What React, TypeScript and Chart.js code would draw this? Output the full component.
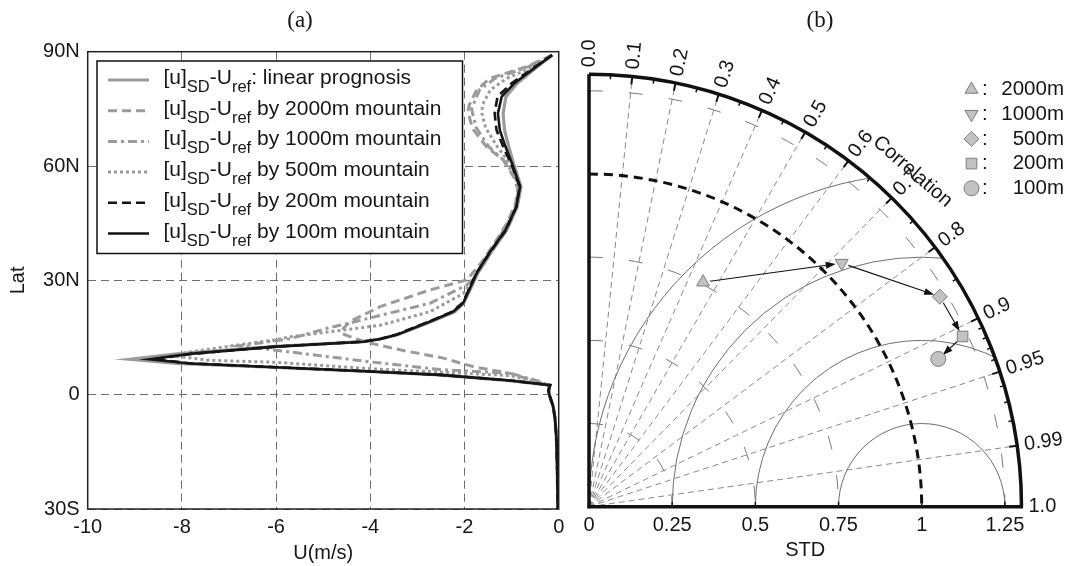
import React, { useEffect, useRef } from "react";
import { Chart, registerables } from "chart.js";
import { drawPoint } from "chart.js/helpers";

Chart.register(...registerables);

const SANS = "'Liberation Sans', Arial, Helvetica, sans-serif";
const SERIF = "'Liberation Serif', 'Times New Roman', serif";
const INK = "#161616";
const GREY = "#9b9b9b";

// ---------------- Panel (a) data ----------------
const uTickValues = [-10, -8, -6, -4, -2, 0];
const uTickLabels = ["-10", "-8", "-6", "-4", "-2", "0"];
const latTickValues = [-30, 0, 30, 60, 90];
const latTickLabels = ["30S", "0", "30N", "60N", "90N"];

const latBase = [89.1, 86.1, 81.7, 78.2, 73.8, 69.4, 65.1, 60.3, 54.6, 49.3, 43.2, 37.1, 31.9, 27.0, 24.0, 21.8, 19.2, 15.7, 14.6, 13.9, 12.6, 10.7, 9.3, 8.2, 7.2, 6.1, 5.2, 3.7, 2.5, 1.0, 0, -3, -6, -11, -20, -30];
const uLinear = [-0.14, -0.45, -0.88, -1.12, -1.18, -1.15, -1.06, -0.95, -0.8, -0.88, -1.1, -1.45, -1.72, -1.9, -2.02, -2.2, -2.7, -3.42, -3.78, -4.15, -6.1, -8.1, -9.1, -8.1, -6.1, -4.05, -2.55, -1.05, -0.2, -0.22, -0.2, -0.12, -0.08, -0.05, -0.03, -0.02];
const u100m = [-0.14, -0.47, -0.94, -1.21, -1.29, -1.25, -1.13, -0.98, -0.82, -0.9, -1.13, -1.48, -1.74, -1.92, -2.03, -2.24, -2.73, -3.44, -3.79, -4.15, -6.0, -7.83, -8.68, -7.82, -6.0, -4.0, -2.52, -1.03, -0.18, -0.22, -0.2, -0.12, -0.08, -0.05, -0.03, -0.02];
const u200m = [-0.14, -0.5, -1.0, -1.3, -1.36, -1.32, -1.18, -1.0, -0.83, -0.9, -1.12, -1.47, -1.75, -1.93, -2.05, -2.26, -2.75, -3.46, -3.8, -4.17, -6.02, -7.8, -8.6, -7.8, -6.0, -4.0, -2.5, -1.02, -0.18, -0.22, -0.2, -0.12, -0.08, -0.05, -0.03, -0.02];

const lat500m = [89.1, 86, 83, 80, 76, 73.8, 70, 65, 61, 57, 54, 50, 45, 40, 35, 30, 26.5, 21.8, 18.2, 16.5, 15.2, 14.3, 13.0, 11.2, 10.2, 9.0, 8.5, 6.8, 5.0, 3.0, 2.3, 0, -3, -6, -11, -20, -30];
const u500m = [-0.14, -0.55, -1.1, -1.45, -1.62, -1.63, -1.55, -1.3, -1.05, -0.88, -0.82, -0.88, -1.08, -1.32, -1.55, -1.82, -2.03, -2.73, -3.79, -4.86, -5.7, -6.06, -6.84, -7.83, -8.2, -7.4, -6.0, -4.0, -1.03, -0.4, -0.2, -0.2, -0.12, -0.08, -0.05, -0.03, -0.02];

const lat1000m = [89.1, 86, 83, 80, 75, 70, 65, 61, 57, 54, 50, 45, 40, 35, 30, 28.8, 24, 20.8, 18.6, 17.6, 14.7, 12.8, 11.2, 8.6, 6.6, 5.6, 3.5, 2.3, 0, -3, -6, -11, -20, -30];
const u1000m = [-0.14, -0.65, -1.35, -1.68, -1.85, -1.75, -1.48, -1.12, -0.92, -0.85, -0.9, -1.08, -1.32, -1.58, -1.85, -1.95, -2.73, -3.79, -4.5, -4.86, -5.7, -6.8, -5.7, -4.0, -2.52, -1.03, -0.4, -0.2, -0.2, -0.12, -0.08, -0.05, -0.03, -0.02];

const lat2000m = [89.1, 86, 83, 80, 76, 74.7, 72, 69.5, 65, 61.6, 57, 54, 50, 45, 40, 35, 30.1, 27.5, 23.1, 19.2, 17.4, 16.0, 13.8, 11.6, 9.6, 7.3, 5.6, 3.8, 2.4, 0, -3, -6, -11, -20, -30];
const u2000m = [-0.14, -0.7, -1.46, -1.74, -1.9, -1.92, -1.88, -1.81, -1.53, -1.18, -0.95, -0.87, -0.92, -1.1, -1.35, -1.62, -1.95, -2.73, -3.79, -4.43, -4.57, -4.6, -4.1, -3.3, -2.45, -1.8, -1.03, -0.58, -0.2, -0.2, -0.12, -0.08, -0.05, -0.03, -0.02];

const legendSuffixes = [": linear prognosis", " by 2000m mountain", " by 1000m mountain", " by 500m mountain", " by 200m mountain", " by 100m mountain"];

// ---------------- Panel (b) data ----------------
const runLabels = ["2000m", "1000m", "500m", "200m", "100m"];
const runStd = [0.757, 1.055, 1.229, 1.234, 1.14];
const runCorr = [0.453, 0.72, 0.858, 0.91, 0.921];
const stdTickValues = [0, 0.25, 0.5, 0.75, 1, 1.25];
const stdTickLabels = ["0", "0.25", "0.5", "0.75", "1", "1.25"];
const corrTickValues = [0, 0.1, 0.2, 0.3, 0.4, 0.5, 0.6, 0.7, 0.8, 0.9, 0.95, 0.99, 1.0];
const corrTickLabels = ["0.0", "0.1", "0.2", "0.3", "0.4", "0.5", "0.6", "0.7", "0.8", "0.9", "0.95", "0.99", "1.0"];
const corrMinorTicks = [0.05, 0.15, 0.25, 0.35, 0.45, 0.55, 0.65, 0.75, 0.85, 0.91, 0.92, 0.93, 0.94, 0.96, 0.97, 0.98];
const stdArcs = [0.25, 0.5, 0.75, 1.25];
const rmsArcs = [0.25, 0.5, 0.75, 1.0];
const refStd = 1;
const stdMax = 1.3;

const markerStyles = ["triangle", "triangle", "rectRot", "rect", "circle"];
const markerRotations = [0, 180, 0, 0, 0];

// ---------------- helpers ----------------
function drawLegendLabel(ctx: CanvasRenderingContext2D, x: number, yc: number, suffix: string) {
  const main = `21px ${SANS}`;
  const sub = `16.5px ${SANS}`;
  const parts: [string, string, number][] = [
    ["[u]", main, 4],
    ["SD", sub, 12],
    ["-U", main, 4],
    ["ref", sub, 12],
    [suffix, main, 4],
  ];
  ctx.textAlign = "left";
  ctx.textBaseline = "alphabetic";
  let cx = x;
  for (const [t, f, dy] of parts) {
    ctx.font = f;
    ctx.fillText(t, cx, yc + dy);
    cx += ctx.measureText(t).width;
  }
}

const titlePlugin = (text: string, x: number) => ({
  id: "panelTitle",
  afterDraw(chart: any) {
    const ctx = chart.ctx;
    ctx.save();
    ctx.font = `23px ${SERIF}`;
    ctx.fillStyle = INK;
    ctx.textAlign = "center";
    ctx.textBaseline = "middle";
    ctx.fillText(text, x, 21);
    ctx.restore();
  },
});

const frameLegendPlugin = {
  id: "frameLegend",
  afterDatasetsDraw(chart: any) {
    const { ctx, chartArea } = chart;
    ctx.save();
    ctx.strokeStyle = "#222";
    ctx.lineWidth = 1.5;
    ctx.setLineDash([]);
    ctx.strokeRect(chartArea.left, chartArea.top, chartArea.right - chartArea.left, chartArea.bottom - chartArea.top);

    // legend box
    const bx = 97, by = 61, bw = 365.5, bh = 192.5;
    ctx.fillStyle = "#fff";
    ctx.fillRect(bx, by, bw, bh);
    ctx.lineWidth = 1.5;
    ctx.strokeStyle = "#111";
    ctx.strokeRect(bx, by, bw, bh);
    const ds = chart.data.datasets;
    for (let i = 0; i < ds.length; i++) {
      const yc = 80 + i * 30.7;
      ctx.beginPath();
      ctx.strokeStyle = ds[i].borderColor;
      ctx.lineWidth = ds[i].borderWidth;
      ctx.setLineDash(ds[i].borderDash || []);
      ctx.moveTo(108, yc);
      ctx.lineTo(149, yc);
      ctx.stroke();
      ctx.setLineDash([]);
      ctx.fillStyle = INK;
      drawLegendLabel(ctx, 163.5, yc, legendSuffixes[i]);
    }
    ctx.restore();
  },
};

function line(ctx: CanvasRenderingContext2D, x1: number, y1: number, x2: number, y2: number) {
  ctx.beginPath();
  ctx.moveTo(x1, y1);
  ctx.lineTo(x2, y2);
  ctx.stroke();
}

const taylorPlugin = {
  id: "taylor",
  beforeDatasetsDraw(chart: any) {
    const { ctx, scales } = chart;
    const xs = scales.x, ys = scales.y;
    const cx = xs.getPixelForValue(0);
    const cy = ys.getPixelForValue(0);
    const u = xs.getPixelForValue(1) - cx;
    const P = (r: number, th: number): [number, number] => [cx + r * u * Math.cos(th), cy - r * u * Math.sin(th)];
    const R = stdMax * u;

    ctx.save();
    ctx.beginPath();
    ctx.moveTo(cx, cy);
    ctx.arc(cx, cy, R, -Math.PI / 2, 0);
    ctx.closePath();
    ctx.clip();

    // radial correlation lines
    ctx.strokeStyle = "#8a8a8a";
    ctx.lineWidth = 1;
    ctx.setLineDash([6, 4]);
    for (const c of corrTickValues.slice(1, -1)) {
      const th = Math.acos(c);
      const [ex, ey] = P(stdMax, th);
      line(ctx, cx, cy, ex, ey);
    }
    // std arcs (sparse dashes)
    ctx.strokeStyle = "#7a7a7a";
    ctx.setLineDash([14, 26]);
    for (const s of stdArcs) {
      ctx.beginPath();
      ctx.arc(cx, cy, s * u, -Math.PI / 2, 0);
      ctx.stroke();
    }
    // RMS arcs centred on reference
    ctx.setLineDash([]);
    ctx.strokeStyle = "#6f6f6f";
    const rx = xs.getPixelForValue(refStd);
    for (const r of rmsArcs) {
      ctx.beginPath();
      ctx.arc(rx, cy, r * u, Math.PI, 2 * Math.PI);
      ctx.stroke();
    }
    ctx.restore();

    ctx.save();
    // reference arc
    ctx.strokeStyle = "#111";
    ctx.lineWidth = 3;
    ctx.setLineDash([9, 6]);
    ctx.beginPath();
    ctx.arc(cx, cy, refStd * u, -Math.PI / 2, 0);
    ctx.stroke();
    ctx.setLineDash([]);

    // outer arc and axes
    ctx.lineWidth = 3.5;
    ctx.beginPath();
    ctx.arc(cx, cy, R, -Math.PI / 2, 0);
    ctx.stroke();
    line(ctx, cx, cy + 1.5, cx, cy - R);
    line(ctx, cx - 1.5, cy, cx + R + 1.5, cy);

    // correlation ticks
    ctx.lineWidth = 2;
    for (const c of corrTickValues.slice(1, -1)) {
      const th = Math.acos(c);
      line(ctx, cx + R * Math.cos(th), cy - R * Math.sin(th), cx + (R - 8) * Math.cos(th), cy - (R - 8) * Math.sin(th));
    }
    ctx.lineWidth = 1.5;
    for (const c of corrMinorTicks) {
      const th = Math.acos(c);
      line(ctx, cx + R * Math.cos(th), cy - R * Math.sin(th), cx + (R - 4.5) * Math.cos(th), cy - (R - 4.5) * Math.sin(th));
    }
    // std ticks on bottom axis
    for (const v of stdTickValues.slice(1)) {
      const px = xs.getPixelForValue(v);
      line(ctx, px, cy, px, cy - 5);
    }

    // correlation labels
    ctx.fillStyle = INK;
    ctx.font = `20px ${SANS}`;
    ctx.textAlign = "left";
    ctx.textBaseline = "middle";
    corrTickValues.forEach((c, i) => {
      const th = Math.acos(c);
      const rr = R + 7;
      ctx.save();
      ctx.translate(cx + rr * Math.cos(th), cy - rr * Math.sin(th));
      ctx.rotate(-th);
      ctx.fillText(corrTickLabels[i], 0, 0);
      ctx.restore();
    });
    // "Correlation" label
    {
      const th = (46 * Math.PI) / 180;
      const [lx, ly] = P(1.4, th);
      ctx.save();
      ctx.translate(lx, ly);
      ctx.rotate((41 * Math.PI) / 180);
      ctx.textAlign = "center";
      ctx.fillText("Correlation", 0, 0);
      ctx.restore();
    }

    // arrows between successive runs
    const meta = chart.getDatasetMeta(0);
    ctx.strokeStyle = "#111";
    ctx.fillStyle = "#111";
    ctx.lineWidth = 1.1;
    for (let i = 0; i < meta.data.length - 1; i++) {
      const a = meta.data[i], b = meta.data[i + 1];
      const dx = b.x - a.x, dy = b.y - a.y;
      const L = Math.hypot(dx, dy);
      const ux = dx / L, uy = dy / L;
      const sx = a.x + ux * 7, sy = a.y + uy * 7;
      const ex = b.x - ux * 6, ey = b.y - uy * 6;
      line(ctx, sx, sy, ex - ux * 6, ey - uy * 6);
      ctx.beginPath();
      ctx.moveTo(ex, ey);
      ctx.lineTo(ex - ux * 10 - uy * 3.5, ey - uy * 10 + ux * 3.5);
      ctx.lineTo(ex - ux * 10 + uy * 3.5, ey - uy * 10 - ux * 3.5);
      ctx.closePath();
      ctx.fill();
    }
    ctx.restore();
  },
  afterDraw(chart: any) {
    const ctx = chart.ctx;
    ctx.save();
    ctx.font = `20.5px ${SANS}`;
    ctx.textBaseline = "middle";
    runLabels.forEach((lab, i) => {
      const y = 89.5 + i * 24.7;
      ctx.fillStyle = "#c2c2c2";
      ctx.strokeStyle = "#7d7d7d";
      ctx.lineWidth = 1;
      drawPoint(ctx, { pointStyle: markerStyles[i] as any, rotation: markerRotations[i], radius: 7.5, borderWidth: 1 } as any, 396.5, y);
      ctx.fillStyle = INK;
      ctx.textAlign = "left";
      ctx.fillText(":", 407, y);
      ctx.textAlign = "right";
      ctx.fillText(lab, 489, y);
    });
    ctx.restore();
  },
};

export default function App() {
  const leftRef = useRef<HTMLCanvasElement>(null);
  const rightRef = useRef<HTMLCanvasElement>(null);

  useEffect(() => {
    const series = [
      { lat: latBase, u: uLinear, color: GREY, dash: [], width: 3.2, order: 6 },
      { lat: lat2000m, u: u2000m, color: GREY, dash: [9, 5], width: 3, order: 5 },
      { lat: lat1000m, u: u1000m, color: GREY, dash: [9, 4, 3, 4], width: 3, order: 4 },
      { lat: lat500m, u: u500m, color: GREY, dash: [3, 3], width: 3, order: 3 },
      { lat: latBase, u: u200m, color: "#151515", dash: [9, 5], width: 2.6, order: 2 },
      { lat: latBase, u: u100m, color: "#151515", dash: [], width: 2.6, order: 1 },
    ];
    const tickFont = { family: SANS, size: 20 };

    const left = new Chart(leftRef.current!, {
      type: "scatter",
      data: {
        datasets: series.map((s) => ({
          data: s.lat.map((l, i) => ({ x: s.u[i], y: l })),
          showLine: true,
          borderColor: s.color,
          borderWidth: s.width,
          borderDash: s.dash,
          pointRadius: 0,
          tension: 0,
          fill: false,
          order: s.order,
        })),
      },
      options: {
        animation: false,
        responsive: false,
        devicePixelRatio: 1,
        layout: { padding: { left: 0, right: 16.3, top: 51.7, bottom: 0 } },
        plugins: { legend: { display: false }, tooltip: { enabled: false } },
        scales: {
          x: {
            type: "linear",
            min: -10,
            max: 0,
            afterBuildTicks: (s: any) => {
              s.ticks = uTickValues.map((v) => ({ value: v }));
            },
            afterFit: (s: any) => {
              s.height = 57;
            },
            ticks: {
              autoSkip: false,
              maxRotation: 0,
              padding: 6.5,
              color: INK,
              font: tickFont,
              callback: (_v: any, i: number) => uTickLabels[i],
            },
            grid: { color: "#6e6e6e", lineWidth: 1, drawTicks: false },
            border: { display: false, dash: [8, 5] },
            title: { display: true, text: "U(m/s)", color: INK, font: tickFont, padding: { top: 0, bottom: 1 } },
          },
          y: {
            type: "linear",
            min: -30,
            max: 90,
            afterBuildTicks: (s: any) => {
              s.ticks = latTickValues.map((v) => ({ value: v }));
            },
            afterFit: (s: any) => {
              s.width = 87.7;
            },
            ticks: {
              autoSkip: false,
              padding: 8,
              color: INK,
              font: tickFont,
              callback: (_v: any, i: number) => latTickLabels[i],
            },
            grid: { color: "#6e6e6e", lineWidth: 1, drawTicks: false },
            border: { display: false, dash: [8, 5] },
            title: { display: true, text: "Lat", color: INK, font: tickFont, padding: { top: 6, bottom: 0 } },
          },
        },
      },
      plugins: [frameLegendPlugin, titlePlugin("(a)", 300)],
    } as any);

    const right = new Chart(rightRef.current!, {
      type: "scatter",
      data: {
        datasets: [
          {
            data: runStd.map((s, i) => ({ x: s * runCorr[i], y: s * Math.sqrt(1 - runCorr[i] * runCorr[i]) })),
            pointStyle: markerStyles,
            rotation: markerRotations,
            pointRadius: 7.5,
            pointBackgroundColor: "#c2c2c2",
            pointBorderColor: "#7d7d7d",
            pointBorderWidth: 1,
            showLine: false,
            clip: false,
          },
        ],
      },
      options: {
        animation: false,
        responsive: false,
        devicePixelRatio: 1,
        layout: { padding: { left: 14, right: 46.5, top: 74.2, bottom: 0 } },
        plugins: { legend: { display: false }, tooltip: { enabled: false } },
        scales: {
          x: {
            type: "linear",
            min: 0,
            max: stdMax,
            afterBuildTicks: (s: any) => {
              s.ticks = stdTickValues.map((v) => ({ value: v }));
            },
            afterFit: (s: any) => {
              s.height = 59.3;
            },
            ticks: {
              autoSkip: false,
              maxRotation: 0,
              padding: 6.5,
              color: INK,
              font: tickFont,
              callback: (_v: any, i: number) => stdTickLabels[i],
            },
            grid: { display: false, drawTicks: false },
            border: { display: false },
            title: { display: true, text: "STD", color: INK, font: tickFont, padding: { top: 0, bottom: 4 } },
          },
          y: { type: "linear", min: 0, max: stdMax, display: false },
        },
      },
      plugins: [taylorPlugin, titlePlugin("(b)", 245)],
    } as any);

    return () => {
      left.destroy();
      right.destroy();
    };
  }, []);

  return (
    <div style={{ position: "absolute", left: 0, top: 0, width: 1068, height: 566, background: "#fff", overflow: "hidden" }}>
      <canvas ref={leftRef} width={575} height={566} style={{ position: "absolute", left: 0, top: 0 }} />
      <canvas ref={rightRef} width={493} height={566} style={{ position: "absolute", left: 575, top: 0 }} />
    </div>
  );
}
